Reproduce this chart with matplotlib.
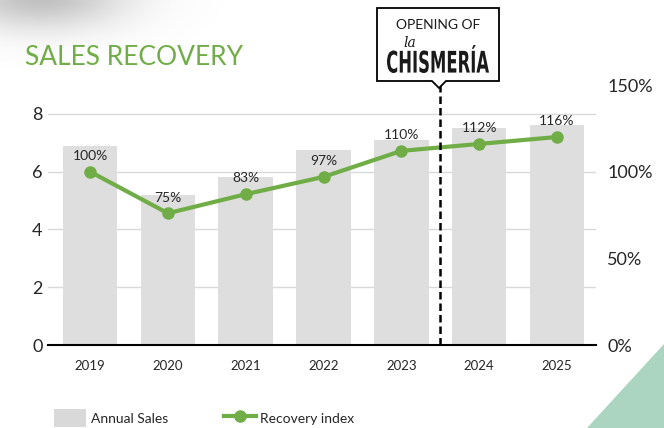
import numpy as np
import matplotlib.pyplot as plt
from matplotlib.patches import Polygon, Patch, PathPatch
from matplotlib.lines import Line2D
from matplotlib.textpath import TextPath
from matplotlib.font_manager import FontProperties
from matplotlib.transforms import Affine2D
from matplotlib.ticker import FuncFormatter

plt.rcParams['font.family'] = ['Lato', 'DejaVu Sans']

## the data
years = ['2019', '2020', '2021', '2022', '2023', '2024', '2025']
annual_sales = [6.9, 5.2, 5.8, 6.75, 7.1, 7.5, 7.6]
recovery_index = [100, 76, 87, 97, 112, 116, 120]
recovery_labels = ['100%', '75%', '83%', '97%', '110%', '112%', '116%']
opening_pos = 4.5   # between 2023 and 2024

GREEN = '#70AD47'
BAR_GREY = '#DEDEDE'
GRID = '#D9D9D9'

W, H = 664, 428
fig = plt.figure(figsize=(W / 100, H / 100), dpi=100)


def fx(x):
    return x / W


def fy(y):
    return 1 - y / H


# background decorations (shadow top-left, green corner bottom-right)
bg = fig.add_axes([0, 0, 1, 1], zorder=-5)
bg.set_xlim(0, W)
bg.set_ylim(H, 0)
bg.axis('off')
xx, yy = np.meshgrid(np.arange(W), np.arange(H))
alpha = 0.45 * np.exp(-((xx - 40) / 85.0) ** 2 - ((yy + 5) / 34.0) ** 2)
img = np.zeros((H, W, 4))
img[..., :3] = 0.45
img[..., 3] = alpha
bg.imshow(img, extent=[0, W, H, 0], aspect='auto')
bg.add_patch(Polygon([(664, 344), (587, 428), (664, 428)], closed=True,
                     facecolor='#ABD5C1', edgecolor='none'))

# main axes
ax = fig.add_axes([fx(48), 1 - 345 / H, (596 - 48) / W, 260 / H])
ax.patch.set_visible(False)
ind = np.arange(len(years))
ax.bar(ind, annual_sales, 0.7, color=BAR_GREY, zorder=2)
ax.set_xlim(-0.54, 6.5)
ax.set_ylim(0, 9)
ax.set_yticks([0, 2, 4, 6, 8])
ax.set_xticks(ind)
ax.set_xticklabels(years)
ax.grid(axis='y', color=GRID, lw=1, zorder=0)
for s in ['top', 'right', 'left']:
    ax.spines[s].set_visible(False)
ax.spines['bottom'].set_color('black')
ax.spines['bottom'].set_linewidth(1.5)
ax.spines['bottom'].set_zorder(4)
ax.tick_params(axis='y', length=0, labelsize=13, pad=4, labelcolor='#262626')
ax.tick_params(axis='x', length=0, labelsize=9.5, pad=11, labelcolor='#262626')

ax2 = ax.twinx()
ax2.plot(ind, recovery_index, color=GREEN, lw=3, marker='o', ms=8, zorder=5)
ax2.set_xlim(-0.54, 6.5)
ax2.set_ylim(0, 150)
ax2.set_yticks([0, 50, 100, 150])
ax2.yaxis.set_major_formatter(FuncFormatter(lambda v, p: '%d%%' % v))
for s in ['top', 'right', 'left', 'bottom']:
    ax2.spines[s].set_visible(False)
ax2.tick_params(axis='y', length=0, labelsize=13, pad=8, labelcolor='#262626')
for i, (v, lab) in enumerate(zip(recovery_index, recovery_labels)):
    ax2.annotate(lab, (i, v), xytext=(0, 7), textcoords='offset points',
                 ha='center', va='bottom', fontsize=10, color='#262626', zorder=6)

# opening marker
ax2.axvline(opening_pos, ymin=0, ymax=1.01, color='black', lw=1.8,
            ls=(0, (3, 1.6)), zorder=6, clip_on=False)

# callout box
box = [(377, 8), (499, 8), (499, 81), (446, 81), (439, 88), (432, 81), (377, 81)]
fig.patches.append(Polygon([(fx(x), fy(y)) for x, y in box], closed=True,
                           transform=fig.transFigure, facecolor='white',
                           edgecolor='black', lw=1.3, zorder=10))
fig.text(fx(438), fy(25), 'OPENING OF', ha='center', va='center',
         fontsize=10, color='#1a1a1a', zorder=11)
fig.text(fx(410), fy(43), 'la', ha='center', va='center', fontsize=10,
         style='italic', family='DejaVu Serif', color='#1a1a1a', zorder=11)

tp = TextPath((0, 0), 'CHISMERÍA', size=10,
              prop=FontProperties(family='DejaVu Sans Condensed', weight='bold'))
ext = tp.get_extents()
sx = (489 - 387) / ext.width
sy = (73 - 45) / ext.height
tr = (Affine2D().translate(-ext.x0, -ext.y0).scale(sx / 100, sy / 100)
      .translate(387 / 100, (H - 73) / 100) + fig.dpi_scale_trans)
fig.patches.append(PathPatch(tp, transform=tr, facecolor='#1a1a1a',
                             edgecolor='none', zorder=11))

# title
fig.text(fx(25), fy(65), 'SALES RECOVERY', ha='left', va='baseline',
         fontsize=19, color=GREEN)

# legend
handles = [Patch(facecolor='#D9D9D9', edgecolor='none'),
           Line2D([0], [0], color=GREEN, lw=3, marker='o', ms=8)]
fig.legend(handles, ['Annual Sales', 'Recovery index'], ncol=2,
           loc='center left', bbox_to_anchor=(fx(54), fy(418)),
           frameon=False, fontsize=10, handlelength=2.3, handleheight=1.7,
           handletextpad=0.35, columnspacing=4.0, labelcolor='#262626',
           borderpad=0, borderaxespad=0)

fig.savefig('out.png', dpi=100, facecolor='white')
